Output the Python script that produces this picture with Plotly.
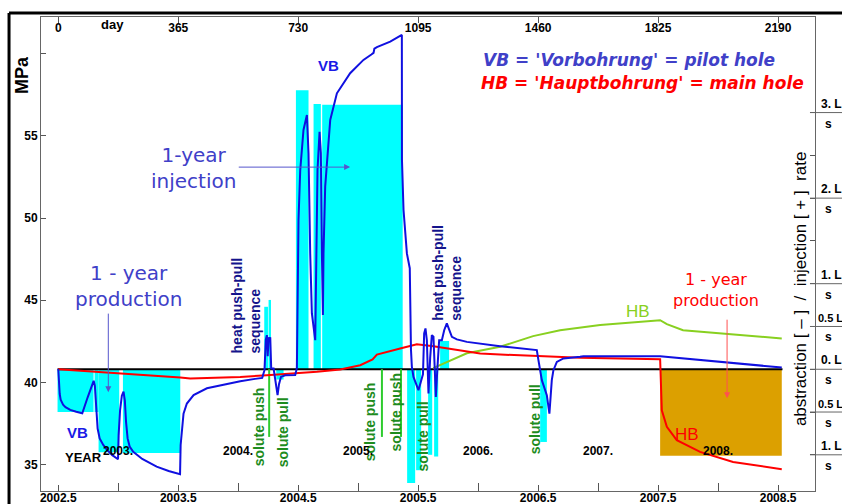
import plotly.graph_objects as go

ARIAL = "Liberation Sans, Arial, sans-serif"
VERD = "DejaVu Sans, Verdana, sans-serif"

# ---------------- pressure histories (year, MPa) ----------------
vb_year = [2002.500, 2002.505, 2002.512, 2002.520, 2002.540, 2002.560, 2002.600, 2002.650,
           2002.700, 2002.745, 2002.795, 2002.805, 2002.815, 2002.828, 2002.845, 2002.875,
           2002.906, 2002.950, 2002.998, 2003.003, 2003.015, 2003.030, 2003.044, 2003.055,
           2003.065, 2003.078, 2003.095, 2003.125, 2003.200, 2003.320, 2003.420, 2003.515,
           2003.520, 2003.530, 2003.544, 2003.572, 2003.628, 2003.739, 2003.906, 2004.017,
           2004.140, 2004.200, 2004.219, 2004.230, 2004.239, 2004.246, 2004.253, 2004.260,
           2004.267, 2004.275, 2004.295, 2004.310, 2004.328, 2004.340, 2004.356, 2004.392,
           2004.475, 2004.489, 2004.5025, 2004.517, 2004.544, 2004.5725, 2004.586, 2004.600,
           2004.614, 2004.642, 2004.650, 2004.661, 2004.678, 2004.689, 2004.6975, 2004.706,
           2004.711, 2004.725, 2004.767, 2004.8225, 2004.933, 2005.044, 2005.110, 2005.128,
           2005.135, 2005.156, 2005.267, 2005.364, 2005.365, 2005.378, 2005.406, 2005.430,
           2005.440, 2005.4475, 2005.461, 2005.483, 2005.5025, 2005.5225, 2005.540, 2005.550,
           2005.561, 2005.5725, 2005.586, 2005.600, 2005.614, 2005.6275, 2005.6475, 2005.661,
           2005.675, 2005.6975, 2005.717, 2005.739, 2005.7525, 2005.781, 2005.8225, 2005.906,
           2006.183, 2006.461, 2006.489, 2006.5025, 2006.531, 2006.5725, 2006.594, 2006.614,
           2006.6275, 2006.656, 2006.711, 2006.850, 2006.8775, 2007.517, 2007.850, 2008.531]
vb_mpa = [40.81, 39.90, 39.30, 38.95, 38.65, 38.50, 38.33, 38.22,
          38.13, 39.10, 40.10, 39.80, 38.50, 37.20, 36.60, 36.20,
          35.90, 35.58, 35.33, 36.80, 38.30, 39.20, 39.45, 38.90,
          37.60, 36.60, 36.10, 35.78, 35.35, 34.88, 34.62, 34.42,
          36.20, 37.10, 38.10, 38.72, 39.23, 39.65, 39.92, 40.08,
          40.22, 40.28, 40.75, 42.60, 42.88, 41.60, 42.75, 42.50,
          42.75, 40.85, 40.85, 40.00, 39.23, 39.90, 40.34, 40.44,
          40.46, 40.87, 49.88, 52.92, 55.36, 56.27, 53.94, 47.85,
          44.20, 42.57, 47.87, 52.92, 55.25, 53.96, 47.87, 44.10,
          47.85, 51.91, 55.97, 57.59, 58.81, 59.62, 59.95, 60.05,
          60.30, 60.40, 60.73, 61.14, 53.53, 50.49, 47.85, 46.95,
          42.00, 40.95, 40.34, 39.94, 39.53, 40.04, 40.50, 42.98,
          43.29, 42.57, 39.33, 41.50, 42.88, 42.78, 39.12, 40.95,
          42.57, 42.57, 43.18, 43.59, 43.29, 42.78, 42.62, 42.47,
          42.21, 41.97, 41.97, 41.36, 40.14, 39.23, 38.11, 40.14,
          40.75, 41.25, 41.46, 41.56, 41.60, 41.60, 41.36, 40.91]

hb_year = [2002.500, 2002.625, 2003.017, 2003.517, 2003.600, 2004.017, 2004.239, 2004.489,
           2004.656, 2004.850, 2005.017, 2005.120, 2005.156, 2005.350, 2005.489, 2005.6275,
           2006.017, 2006.183, 2006.850, 2007.517, 2007.525, 2007.531, 2007.573, 2007.656,
           2007.850, 2008.125, 2008.531]
hb_mpa = [40.81, 40.75, 40.58, 40.30, 40.24, 40.34, 40.44, 40.55,
          40.65, 40.79, 41.05, 41.40, 41.70, 42.07, 42.33, 42.21,
          41.77, 41.70, 41.50, 41.42, 39.60, 38.31, 37.30, 36.49,
          35.78, 35.17, 34.72]

hb2_year = [2005.625, 2005.906, 2006.183, 2006.458, 2006.683, 2007.017, 2007.517,
            2007.573, 2007.708, 2008.125, 2008.531]
hb2_mpa = [40.87, 41.78, 42.17, 42.82, 43.18, 43.49, 43.79,
           43.55, 43.18, 42.94, 42.68]

# ---------------- pumping periods (L/s, + injection / - abstraction) ----------------
vb_start = [2002.494, 2002.803, 2002.836, 2003.039, 2004.217, 2004.253, 2004.317, 2004.481,
            2004.628, 2004.700, 2005.408, 2005.483, 2005.583, 2005.633, 2005.683, 2006.517]
vb_end = [2002.794, 2002.836, 2003.008, 2003.517, 2004.248, 2004.273, 2004.378, 2004.586,
          2004.689, 2005.371, 2005.475, 2005.525, 2005.617, 2005.667, 2005.758, 2006.573]
vb_rate = [-0.50, -0.50, -0.97, -0.98, 0.73, 0.81, -0.12, 3.26,
           3.10, 3.09, -1.33, -1.18, -1.00, -1.02, 0.33, -0.85]

hb_start = [2007.517]
hb_end = [2008.531]
hb_rate = [-1.01]

# solute injection markers (year) drawn below the zero-rate line
solute_marker_year = [2004.258, 2005.198, 2005.357]
solute_marker_top = 40.81
solute_marker_bottom = 36.69

# ---------------- axes ----------------
x_range = [2002.356, 2008.808]
mpa_range = [33.40, 62.23]
rate_range = [-1.423, 4.117]

year_ticks = [2002.5, 2003.5, 2004.5, 2005.5, 2006.5, 2007.5, 2008.5]
whole_years = [2003, 2004, 2005, 2006, 2007, 2008]
day_ticks = [0, 365, 730, 1095, 1460, 1825, 2190]
mpa_ticks = [35, 40, 45, 50, 55, 60]
mpa_tick_text = ["35", "40", "45", "50", "55", ""]
rate_ticks = [3, 2.5, 2, 1.5, 1, 0.5, 0, -0.5, -1]
rate_label_vals = [3, 2, 1, 0.5, 0, -0.5, -1]
rate_label_text = ["3. L", "2. L", "1. L", "0.5 L", "0. L", "0.5 L", "1. L"]

fig = go.Figure()


def bar_trace(starts, ends, rates, color):
    centers = [(a + b) / 2 for a, b in zip(starts, ends)]
    widths = [b - a for a, b in zip(starts, ends)]
    return go.Bar(x=centers, y=rates, width=widths, base=0, marker=dict(color=color, line=dict(width=0)),
                  xaxis="x", yaxis="y", showlegend=False, hoverinfo="skip")


fig.add_trace(bar_trace(vb_start, vb_end, vb_rate, "#00ffff"))
fig.add_trace(bar_trace(hb_start, hb_end, hb_rate, "#dca000"))

# zero-rate line
fig.add_trace(go.Scatter(x=[vb_start[0], hb_end[0] + 0.006], y=[0, 0], mode="lines",
                         line=dict(color="black", width=2.2), xaxis="x", yaxis="y",
                         showlegend=False, hoverinfo="skip"))

# solute push markers
mx, my = [], []
for yr in solute_marker_year:
    mx += [yr, yr, None]
    my += [solute_marker_top, solute_marker_bottom, None]
fig.add_trace(go.Scatter(x=mx, y=my, mode="lines", line=dict(color="#2ecc2e", width=2),
                         xaxis="x", yaxis="y2", showlegend=False, hoverinfo="skip"))

fig.add_trace(go.Scatter(x=hb2_year, y=hb2_mpa, mode="lines", line=dict(color="#88d020", width=2),
                         xaxis="x", yaxis="y2", showlegend=False))
fig.add_trace(go.Scatter(x=hb_year, y=hb_mpa, mode="lines", line=dict(color="#ff0000", width=2),
                         xaxis="x", yaxis="y2", showlegend=False))
fig.add_trace(go.Scatter(x=vb_year, y=vb_mpa, mode="lines", line=dict(color="#1010e0", width=2),
                         xaxis="x", yaxis="y2", showlegend=False))

# day axis carrier
fig.add_trace(go.Scatter(x=[day_ticks[0]], y=[None], mode="markers", xaxis="x2", yaxis="y2",
                         showlegend=False, hoverinfo="skip"))

ann = []


def txt(x, y, text, size, color, font=ARIAL, weight="bold", angle=0, xa="center", ya="middle",
        xref="x", yref="y2", align="center", style="normal"):
    ann.append(dict(x=x, y=y, xref=xref, yref=yref, text=text, showarrow=False, textangle=angle,
                    xanchor=xa, yanchor=ya, align=align,
                    font=dict(family=font, size=size, color=color, weight=weight, style=style)))


# legend-like statements
txt(0.5685, 0.9094, "VB = 'Vorbohrung' = pilot hole", 17, "#4040c8", font=VERD,
    xref="paper", yref="paper", xa="left", style="italic")
txt(0.5659, 0.8609, "HB = 'Hauptbohrung' = main hole", 17, "#ff0000", font=VERD,
    xref="paper", yref="paper", xa="left", style="italic")

# curve labels
txt(2004.75, 59.25, "VB", 15, "#1a1ae6")
txt(2002.658, 36.98, "VB", 15, "#1a1ae6")
txt(2007.333, 44.34, "HB", 17, "#88d020", weight="normal")
txt(2007.742, 36.85, "HB", 17, "#ff0000", weight="normal")

# period labels with arrows
txt(2003.625, 53.04, "1-year<br>injection", 20, "#4040c8", font=VERD, weight="normal")
txt(2003.083, 45.86, "1 - year<br>production", 20, "#4040c8", font=VERD, weight="normal")
txt(2007.983, 45.60, "1 - year<br>production", 16, "#ff0000", font=VERD, weight="normal")


def arrow(x0, y0, x1, y1, color):
    ann.append(dict(x=x1, y=y1, ax=x0, ay=y0, xref="x", yref="y2", axref="x", ayref="y2",
                    text="", showarrow=True, arrowhead=2, arrowsize=1.2, arrowwidth=1,
                    arrowcolor=color))


arrow(2003.992, 53.10, 2004.933, 53.10, "#5555cc")
arrow(2002.917, 44.28, 2002.917, 39.41, "#5555cc")
arrow(2008.075, 43.91, 2008.075, 39.04, "#ff5050")

# test sequence labels
txt(2004.067, 41.66, "heat push-pull<br>sequence", 14, "#14148c", angle=-90, ya="bottom", align="left")
txt(2005.742, 43.65, "heat push-pull<br>sequence", 14, "#14148c", angle=-90, ya="bottom", align="left")
for x, y, t in [(2004.175, 37.29, "solute push"), (2004.375, 36.98, "solute pull"),
                (2005.100, 37.59, "solute push"), (2005.317, 38.19, "solute push"),
                (2005.542, 36.73, "solute pull"), (2006.475, 37.77, "solute pull")]:
    txt(x, y, t, 14, "#1e8c1e", angle=-90)

# axis captions
txt(-0.0245, 0.8776, "MPa", 18, "black", xref="paper", yref="paper", angle=-90)
txt(0.9806, 0.428, "abstraction [ \u2013 ]  /  injection [ + ]  rate", 17, "black",
    xref="paper", yref="paper", angle=-90, weight="normal")
txt(0.093, 0.985, "day", 13, "black", xref="paper", yref="paper")
txt(0.0555, 0.071, "YEAR", 13, "black", xref="paper", yref="paper")
for yr in whole_years:
    txt(yr, 0.0838, f"{yr}.", 12, "black", xref="x", yref="paper")

# rate scale labels on the right margin
for v, t in zip(rate_label_vals, rate_label_text):
    narrow = len(t) > 4
    ann.append(dict(x=1.0 if narrow else 1.0039, y=v, xref="paper", yref="y", text=t,
                    showarrow=False, xanchor="left", yanchor="bottom", yshift=0, xshift=1,
                    font=dict(family=ARIAL, size=11 if narrow else 12, color="black", weight="bold")))
    ann.append(dict(x=1.018, y=v, xref="paper", yref="y", text="s", showarrow=False,
                    xanchor="center", yanchor="top", yshift=-2,
                    font=dict(family=ARIAL, size=12, color="black", weight="bold")))

shapes = []
for v in rate_label_vals:
    shapes.append(dict(type="line", xref="paper", yref="y", x0=0.9935, x1=1.04, y0=v, y1=v,
                       line=dict(color="#666666", width=1)))
# outer frame edges
shapes.append(dict(type="line", xref="paper", yref="paper", x0=-0.0413, x1=1.04, y0=1.0084, y1=1.0084,
                   line=dict(color="black", width=3)))
shapes.append(dict(type="line", xref="paper", yref="paper", x0=-0.0413, x1=-0.0413, y0=1.0084, y1=-0.04,
                   line=dict(color="black", width=3)))

tickfont = dict(family=ARIAL, size=12, color="black", weight="bold")
fig.update_layout(
    width=842, height=504,
    margin=dict(l=41, r=27, t=17, b=13, autoexpand=False),
    paper_bgcolor="white", plot_bgcolor="white",
    barmode="overlay",
    showlegend=False,
    annotations=ann,
    shapes=shapes,
    xaxis=dict(range=x_range, tickvals=year_ticks, ticktext=[str(v) for v in year_ticks],
               ticks="inside", ticklen=6, tickcolor="#555555", showline=True, linecolor="#666666",
               linewidth=1, showgrid=False, zeroline=False, tickfont=tickfont, anchor="y",
               ticklabelstandoff=-4,
               minor=dict(tickvals=whole_years, ticks="inside", ticklen=8, tickcolor="#555555")),
    xaxis2=dict(range=[(x_range[0] - 2002.5) * 365, (x_range[1] - 2002.5) * 365], overlaying="x",
                side="top", anchor="y", tickvals=day_ticks, ticks="inside", ticklen=6,
                tickcolor="#555555", ticklabelposition="inside", showline=True, linecolor="#666666",
                linewidth=1, showgrid=False, zeroline=False, tickfont=tickfont),
    yaxis=dict(range=rate_range, side="right", tickvals=rate_ticks, ticks="inside", ticklen=5,
               tickcolor="#555555", showticklabels=False, showline=True, linecolor="#666666",
               linewidth=1, showgrid=False, zeroline=False, anchor="x"),
    yaxis2=dict(range=mpa_range, overlaying="y", side="left", anchor="x", tickvals=mpa_ticks,
                ticktext=mpa_tick_text, ticks="inside", ticklen=5, tickcolor="#555555",
                showline=True, linecolor="#666666", linewidth=1, showgrid=False, zeroline=False,
                tickfont=tickfont),
)

fig.write_html("out.html")
